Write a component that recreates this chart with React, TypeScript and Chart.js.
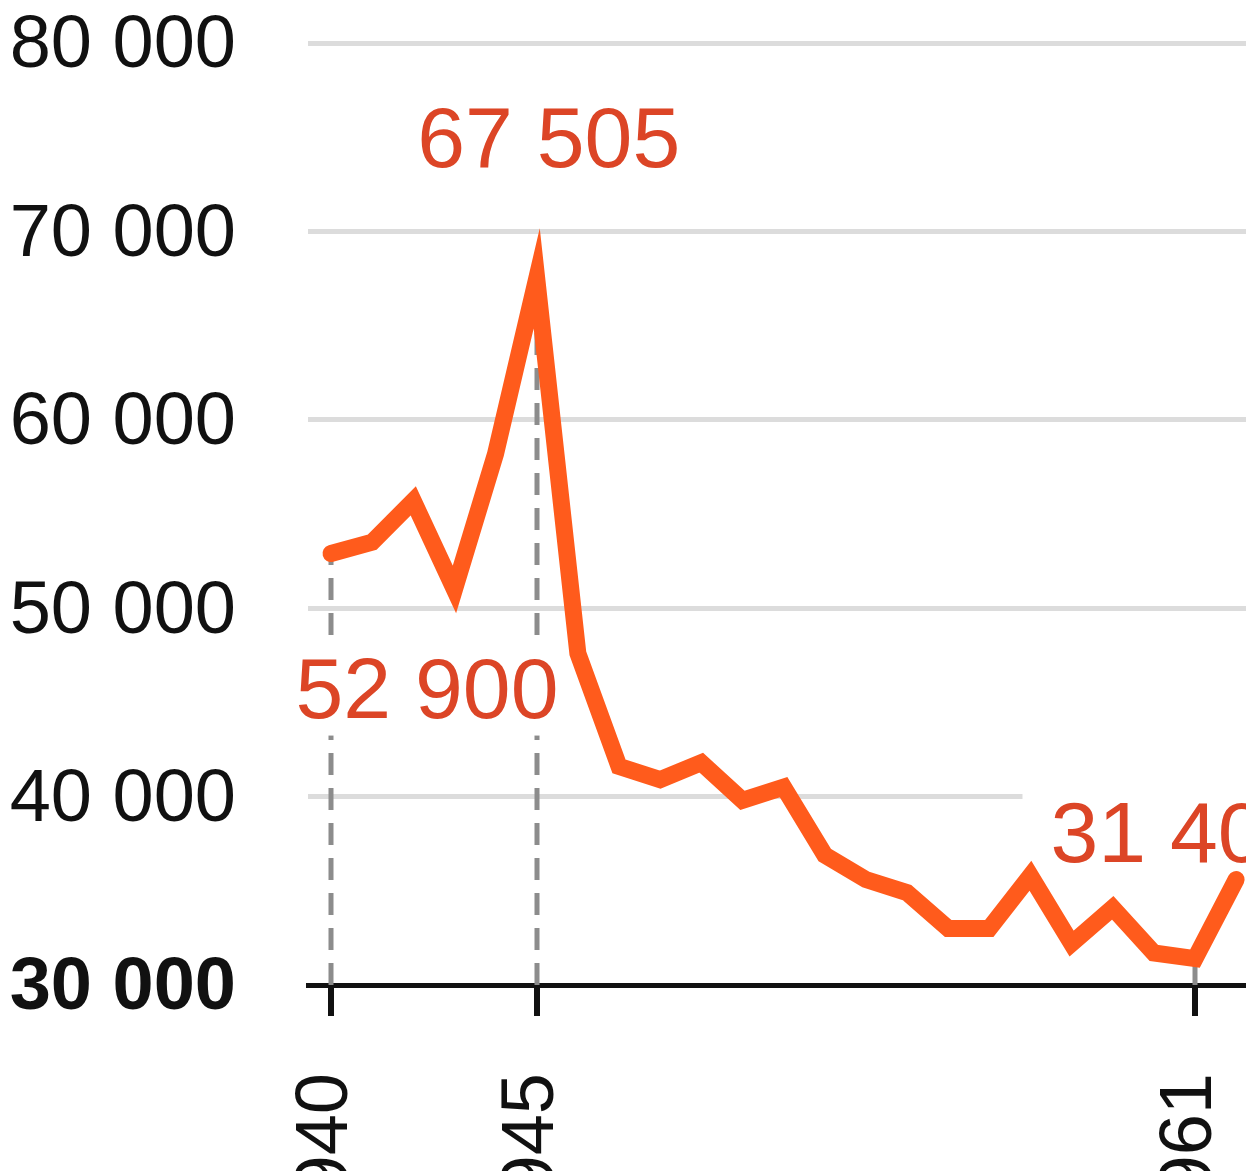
import React, { useEffect, useRef } from 'react';
import { Chart, registerables } from 'chart.js';

Chart.register(...registerables);

// ---- data ----
const years = [1940, 1941, 1942, 1943, 1944, 1945, 1946, 1947, 1948, 1949, 1950, 1951, 1952, 1953, 1954, 1955, 1956, 1957, 1958, 1959, 1960, 1961, 1962];
const births = [52900, 53500, 55700, 51000, 58200, 67505, 47600, 41600, 40900, 41800, 39800, 40500, 36900, 35600, 34900, 33000, 33000, 35800, 32200, 34100, 31700, 31400, 35600];
const yTicks = [30000, 40000, 50000, 60000, 70000, 80000];
const xTicks = [1940, 1945, 1961];
const markedYears = [1940, 1945, 1961];

// ---- styles ----
const FONT = '"Liberation Sans", Arial, Helvetica, sans-serif';
const LINE_COLOR = '#FF5B1C';
const LABEL_COLOR = '#DC4526';
const GRID_COLOR = '#dcdcdc';
const DASH_COLOR = '#8c8c8c';
const AXIS_COLOR = '#111111';
// pixel offsets of each value label relative to its point
const labelDx = [96, 12, -13];
const labelDy = [134, -142, -127];

const CANVAS_W = 1300;
const CANVAS_H = 1250;
const AREA_LEFT = 308;
const AREA_TOP = 43;
const AREA_BOTTOM = 985;
const PX_PER_YEAR = 41.143;
const X_MIN = 1940 - (331 - AREA_LEFT) / PX_PER_YEAR;
const X_MAX = X_MIN + (CANVAS_W - AREA_LEFT) / PX_PER_YEAR;

const fmt = (v: number) => String(Math.round(v)).replace(/\B(?=(\d{3})+(?!\d))/g, ' ');

const annotatePlugin = {
  id: 'annotatePlugin',
  beforeDatasetsDraw(chart: any) {
    const { ctx, chartArea } = chart;
    const xs = chart.scales.x;
    const ys = chart.scales.y;
    ctx.save();
    // dashed drop lines
    ctx.strokeStyle = DASH_COLOR;
    ctx.lineWidth = 5;
    ctx.setLineDash([22, 13]);
    markedYears.forEach((yr) => {
      const i = years.indexOf(yr);
      const px = Math.round(xs.getPixelForValue(yr));
      const py = ys.getPixelForValue(births[i]);
      ctx.beginPath();
      ctx.moveTo(px, chartArea.bottom);
      ctx.lineTo(px, py);
      ctx.stroke();
    });
    ctx.setLineDash([]);
    // value labels with white background
    ctx.font = '86px ' + FONT;
    ctx.textAlign = 'center';
    ctx.textBaseline = 'alphabetic';
    markedYears.forEach((yr, k) => {
      const i = years.indexOf(yr);
      const px = xs.getPixelForValue(yr);
      const py = ys.getPixelForValue(births[i]);
      const text = fmt(births[i]);
      const w = ctx.measureText(text).width;
      const cx = px + labelDx[k];
      const cy = py + labelDy[k];
      ctx.fillStyle = '#ffffff';
      ctx.fillRect(cx - w / 2 - 28, cy - 48, w + 56, 96);
      ctx.fillStyle = LABEL_COLOR;
      ctx.fillText(text, cx, cy + 0.358 * 86);
    });
    ctx.restore();
  },
};

export default function App() {
  const canvasRef = useRef<HTMLCanvasElement | null>(null);

  useEffect(() => {
    const canvas = canvasRef.current;
    if (!canvas) return;
    const chart = new Chart(canvas, {
      type: 'line',
      data: {
        datasets: [
          {
            data: years.map((yr, i) => ({ x: yr, y: births[i] })),
            borderColor: LINE_COLOR,
            borderWidth: 17,
            borderJoinStyle: 'miter',
            borderCapStyle: 'round',
            pointRadius: 0,
            pointHoverRadius: 0,
            tension: 0,
            fill: false,
          },
        ],
      },
      options: {
        animation: false,
        responsive: false,
        events: [],
        layout: { padding: { top: AREA_TOP, left: 0, right: 0, bottom: 0 } },
        plugins: { legend: { display: false }, tooltip: { enabled: false }, title: { display: false } },
        scales: {
          x: {
            type: 'linear',
            min: X_MIN,
            max: X_MAX,
            afterBuildTicks: (scale: any) => {
              scale.ticks = xTicks.map((v) => ({ value: v }));
            },
            afterFit: (scale: any) => {
              scale.height = CANVAS_H - AREA_BOTTOM;
              scale.paddingLeft = 0;
              scale.paddingRight = 0;
            },
            grid: {
              display: true,
              drawOnChartArea: false,
              drawTicks: true,
              tickLength: 31,
              color: AXIS_COLOR,
              lineWidth: 6,
            },
            border: { display: true, color: AXIS_COLOR, width: 5 },
            ticks: {
              autoSkip: false,
              minRotation: 90,
              maxRotation: 90,
              padding: 57,
              labelOffset: -4,
              color: AXIS_COLOR,
              font: { family: FONT, size: 74 },
              callback: (v: any) => String(v),
            },
          },
          y: {
            type: 'linear',
            min: yTicks[0],
            max: yTicks[yTicks.length - 1],
            afterBuildTicks: (scale: any) => {
              scale.ticks = yTicks.map((v) => ({ value: v }));
            },
            afterFit: (scale: any) => {
              scale.width = AREA_LEFT;
              scale.paddingTop = 0;
              scale.paddingBottom = 0;
            },
            grid: {
              display: true,
              drawTicks: false,
              lineWidth: 5,
              color: (c: any) => (c.tick && c.tick.value === yTicks[0] ? 'rgba(0,0,0,0)' : GRID_COLOR),
            },
            border: { display: false },
            ticks: {
              padding: 72,
              labelOffset: 4,
              color: AXIS_COLOR,
              font: (c: any) => ({
                family: FONT,
                size: 74,
                weight: c.tick && c.tick.value === yTicks[0] ? 'bold' : 'normal',
              }),
              callback: (v: any) => fmt(Number(v)),
            },
          },
        },
      },
      plugins: [annotatePlugin],
    } as any);
    return () => chart.destroy();
  }, []);

  return (
    <div
      style={{
        position: 'fixed',
        left: 0,
        top: 0,
        width: 1246,
        height: 1171,
        overflow: 'hidden',
        background: '#ffffff',
      }}
    >
      <canvas ref={canvasRef} width={CANVAS_W} height={CANVAS_H} style={{ display: 'block', width: CANVAS_W, height: CANVAS_H }} />
    </div>
  );
}
